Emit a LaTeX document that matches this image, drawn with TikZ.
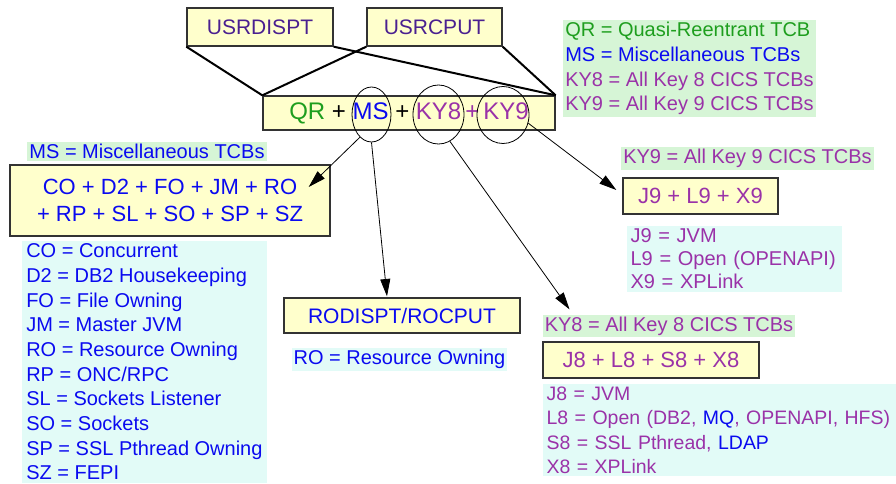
\documentclass[tikz,border=0pt]{standalone}
\usepackage{fontspec}
\setmainfont{Liberation Sans}
\usepackage{xcolor}
\usepackage{tikz}
\usetikzlibrary{shapes.geometric, arrows.meta, positioning, calc}
\definecolor{qrgreen}{HTML}{1E9E1E}
\definecolor{msblue}{HTML}{0A0AF0}
\definecolor{keypurple}{HTML}{9A32A8}
\definecolor{usrviolet}{HTML}{4A2090}
\definecolor{boxfill}{HTML}{FFFFCC}
\definecolor{boxline}{HTML}{333333}
\definecolor{greenbg}{HTML}{D6F5D6}
\definecolor{cyanbg}{HTML}{E2FBF7}

\begin{document}
\begin{tikzpicture}[x=0.75pt, y=-0.75pt,
    tcbbox/.style={draw=boxline, line width=1pt, fill=boxfill, inner sep=0pt},
    ring/.style={ellipse, draw, line width=0.6pt, inner sep=0pt},
    note/.style={fill=greenbg, inner sep=1.5pt, font=\fontsize{15}{18.5}\selectfont},
    keylist/.style={fill=cyanbg, inner xsep=2.5pt, inner ysep=2pt, align=left, anchor=north west},
    tie/.style={line width=1.5pt},
    conn/.style={-{Triangle[length=13pt,width=7.5pt]}, line width=0.6pt}
  ]
    \useasboundingbox (0,0) rectangle (896,483);

    % Dispatch / CPU totals and the TCB modes
    \node[tcbbox, minimum width=109.5pt, minimum height=28.5pt, text=usrviolet,
      font=\fontsize{15.75}{18}\selectfont] (usrdispt) at (260,27) {USRDISPT};
    \node[tcbbox, minimum width=101.25pt, minimum height=28.5pt, text=usrviolet,
      font=\fontsize{15.75}{18}\selectfont] (usrcput) at (434.5,27) {USRCPUT};
    \node[tcbbox, minimum width=219pt, minimum height=25.5pt,
      font=\fontsize{18}{20}\selectfont] (tcbs) at (409,113)
      {\textcolor{qrgreen}{QR} + \textcolor{msblue}{MS} + \textcolor{keypurple}{KY8\,+\,KY9}};

    \draw[tie] (usrdispt.south west) -- (tcbs.north west);
    \draw[tie] (usrdispt.south east) -- (tcbs.north east);
    \draw[tie] (usrcput.south west) -- (tcbs.north west);
    \draw[tie] (usrcput.south east) -- (tcbs.north east);

    % Rings round the groups
    \node[ring, minimum width=29.25pt, minimum height=41.25pt] (msring) at (371.5,114.5) {};
    \node[ring, minimum width=38.25pt, minimum height=44.25pt] (ky8ring) at (438.5,114.5) {};
    \node[ring, minimum width=39pt, minimum height=42.75pt] (ky9ring) at (503,115) {};

    % Legend of the modes
    \node[keylist, fill=greenbg, inner sep=1.5pt, font=\fontsize{15}{18.5}\selectfont] (modekey) at (563,20)
      {\textcolor{qrgreen}{QR = Quasi-Reentrant TCB}\\
       \textcolor{msblue}{MS = Miscellaneous TCBs}\\
       \textcolor{keypurple}{KY8 = All Key 8 CICS TCBs}\\
       \textcolor{keypurple}{KY9 = All Key 9 CICS TCBs}};

    % MS group
    \node[note, text=msblue] (msnote) at (147,151.5) {MS = Miscellaneous TCBs};
    \node[tcbbox, minimum width=240pt, minimum height=53.25pt, text=msblue, align=center,
      font=\fontsize{16.5}{20}\selectfont] (msbox) at (170,200.5)
      {CO + D2 + FO + JM + RO\\+ RP + SL + SO + SP + SZ};
    \node[keylist, text=msblue, inner xsep=3pt, font=\fontsize{15}{18.5}\selectfont] (mskey) at (22,241)
      {CO = Concurrent\\
       D2 = DB2 Housekeeping\\
       FO = File Owning\\
       JM = Master JVM\\
       RO = Resource Owning\\
       RP = ONC/RPC\\
       SL = Sockets Listener\\
       SO = Sockets\\
       SP = SSL Pthread Owning\\
       SZ = FEPI};

    % RO dispatch
    \node[tcbbox, minimum width=177pt, minimum height=26.25pt, text=msblue,
      font=\fontsize{15.75}{18}\selectfont] (rodispt) at (402,315.5) {RODISPT/ROCPUT};
    \node[note, fill=cyanbg, text=msblue] (ronote) at (399.5,359.5) {RO = Resource Owning};

    % KY9 group
    \node[note, text=keypurple] (ky9note) at (747.5,158.5) {KY9 = All Key 9 CICS TCBs};
    \node[tcbbox, minimum width=116.25pt, minimum height=27pt, text=keypurple,
      font=\fontsize{16.5}{18}\selectfont] (j9box) at (700.5,196) {J9 + L9 + X9};
    \node[keylist, text=keypurple, text width=156pt, font=\fontsize{15}{17.25}\selectfont] (j9key) at (627,226)
      {J9 = JVM\\
       L9 = Open (OPENAPI)\\
       X9 = XPLink};

    % KY8 group
    \node[note, text=keypurple] (ky8note) at (669,326) {KY8 = All Key 8 CICS TCBs};
    \node[tcbbox, minimum width=162pt, minimum height=27pt, text=keypurple,
      font=\fontsize{16.5}{18}\selectfont] (j8box) at (651,360) {J8 + L8 + S8 + X8};
    \node[keylist, text=keypurple, text width=272pt, font=\fontsize{14.6}{18.2}\selectfont] (j8key) at (543,384)
      {J8 = JVM\\
       L8 = Open (DB2, \textcolor{msblue}{MQ}, OPENAPI, HFS)\\
       S8 = SSL Pthread, \textcolor{msblue}{LDAP}\\
       X8 = XPLink};

    % Arrows to the breakdowns
    \draw[conn] (msring.-117) -- ($(msbox.east)+(-22,-13.5)$);
    \draw[conn] (msring.south) -- ($(rodispt.north)+(-15,-1)$);
    \draw[conn] (ky8ring.-67) -- ($(ky8note.north west)+(27,-5)$);
    \draw[conn] (ky9ring.-18) -- ($(j9box.west)+(-6,-6)$);
  \end{tikzpicture}
\end{document}
